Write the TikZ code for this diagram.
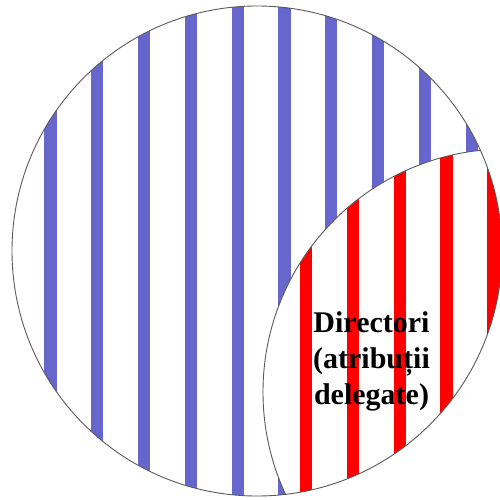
\documentclass[tikz,border=0pt]{standalone}
\usepackage{fontspec}
\setmainfont{Liberation Serif}
\definecolor{stripeblue}{RGB}{102,102,204}
\definecolor{stripered}{RGB}{255,0,0}
\definecolor{rimgray}{RGB}{90,90,90}
\tikzset{
  rim/.style={draw=rimgray, line width=0.9pt},
  bluestripe/.style={fill=stripeblue},
  redstripe/.style={fill=stripered},
  labeltext/.style={font=\bfseries\fontsize{30}{36}\selectfont, align=center, inner sep=0pt, text=black}
}
\begin{document}
\begin{tikzpicture}[x=1pt,y=-1pt]
\useasboundingbox (0,0) rectangle (500,500);
\fill[white] (0,0) rectangle (500,500);
\coordinate (bigc) at (257,251);
\coordinate (smallc) at (506,392);
\begin{scope}
  \clip (bigc) circle (245pt);
  \foreach \i in {0,...,9} \fill[bluestripe] ({44.3+46.8*\i},0) rectangle ++(12.3,500);
  \clip (smallc) circle (243pt);
  \fill[white] (0,0) rectangle (500,500);
  \foreach \i in {0,...,4} \fill[redstripe] ({300+46.8*\i},0) rectangle ++(12.3,500);
\end{scope}
\begin{scope}
  \clip (bigc) circle (245pt);
  \draw[rim] (smallc) circle (243pt);
\end{scope}
\draw[rim] (bigc) circle (245pt);
\node[labeltext] (lbl) at (371.5,361) {Directori\\(atribuții\\delegate)};
\end{tikzpicture}
\end{document}
